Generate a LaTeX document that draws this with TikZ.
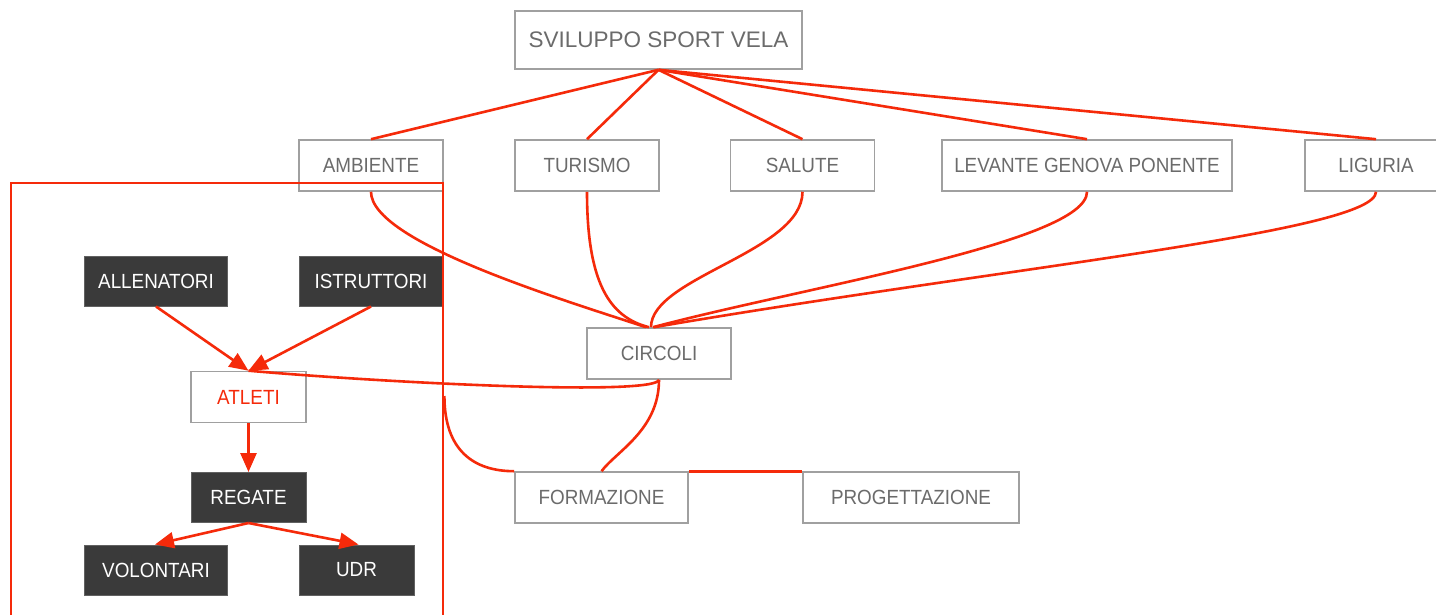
\documentclass[tikz,border=0pt]{standalone}
\usepackage{fontspec}
\setmainfont[FakeStretch=0.92]{Liberation Sans}
\newfontfamily\svfont{Liberation Sans}
\usetikzlibrary{arrows.meta}
\definecolor{rline}{HTML}{F52A0A}
\definecolor{gborder}{HTML}{A0A0A0}
\definecolor{gtext}{HTML}{6B6B6B}
\definecolor{dbox}{HTML}{3A3A3A}
\tikzset{
  lightbox/.style={draw=gborder, line width=1.6pt, fill=white, text=gtext, inner sep=0pt,
    minimum height=51pt, font=\fontsize{20.5}{22}\selectfont},
  darkbox/.style={draw=dbox!80!white, line width=1pt, fill=dbox, text=white, inner sep=0pt,
    minimum height=50pt, font=\fontsize{20.5}{22}\selectfont},
  link/.style={draw=rline, line width=2.6pt},
  arr/.style={link, -{Triangle[length=19pt,width=16pt]}},
  clusterbox/.style={draw=rline, line width=2.8pt, inner sep=0pt}
}
\begin{document}
\begin{tikzpicture}[x=1pt,y=-1pt]
\useasboundingbox (0,0) rectangle (1436,614);
\fill[white] (0,0) rectangle (1436,614);
% top level
\node[lightbox, minimum width=287pt, minimum height=58pt, font=\svfont\fontsize{22.5}{24}\selectfont] (sv) at (658.5,40) {SVILUPPO SPORT VELA};
\node[lightbox, minimum width=144pt] (amb) at (371,165.5) {AMBIENTE};
\node[lightbox, minimum width=144pt] (tur) at (587,165.5) {TURISMO};
\node[lightbox, minimum width=144pt] (sal) at (802.5,165.5) {SALUTE};
\node[lightbox, minimum width=290pt] (lev) at (1087,165.5) {LEVANTE GENOVA PONENTE};
\node[lightbox, minimum width=142pt] (lig) at (1376,165.5) {LIGURIA};
\node[lightbox, minimum width=144pt] (circ) at (659,353.5) {CIRCOLI};
\node[lightbox, minimum width=173pt] (form) at (601.5,497.5) {FORMAZIONE};
\node[lightbox, minimum width=216pt] (prog) at (911,497.5) {PROGETTAZIONE};
% cluster
\node[darkbox, minimum width=143pt] (all) at (156,281) {ALLENATORI};
\node[darkbox, minimum width=144pt] (ist) at (371,281) {ISTRUTTORI};
\node[lightbox, minimum width=115pt, text=rline] (atl) at (248.5,397) {ATLETI};
\node[darkbox, minimum width=115pt] (reg) at (248.5,497.5) {REGATE};
\node[darkbox, minimum width=143pt] (vol) at (156,570) {VOLONTARI};
\node[darkbox, minimum width=115pt] (udr) at (356.5,570) {UDR};
\node[clusterbox, minimum width=432pt, minimum height=442pt] (cl) at (227,404) {};
% straight links from top
\foreach \t in {amb,tur,sal,lev,lig}
  \draw[link] (sv.south) -- (\t.north);
% curves to CIRCOLI
\draw[link] (amb.south) .. controls +(0,50) and +(-85,-28) .. ([xshift=-13pt]circ.north);
\draw[link] (tur.south) .. controls +(0,90) and +(-40,-10) .. ([xshift=-10pt]circ.north);
\draw[link] (sal.south) .. controls +(0,60) and +(0,-50) .. ([xshift=-8pt]circ.north);
\draw[link] (lev.south) .. controls +(0,50) and +(150,-40) .. ([xshift=-6pt]circ.north);
\draw[link] (lig.south) .. controls +(0,40) and +(350,-60) .. ([xshift=-5pt]circ.north);
% CIRCOLI downwards
\draw[link] (circ.south) .. controls +(-4,16) and +(150,13) .. (atl.north);
\draw[link] (circ.south) .. controls +(0,50) and +(15,-20) .. (form.north);
\draw[link] ([yshift=8pt]cl.east) .. controls +(0,55) and +(-40,0) .. (form.north west);
\draw[link] (form.north east) -- (prog.north west);
% cluster arrows
\draw[arr] (all.south) -- (atl.north);
\draw[arr] (ist.south) -- (atl.north);
\draw[arr] (atl.south) -- (reg.north);
\draw[arr] (reg.south) -- ([xshift=-1pt]vol.north);
\draw[arr] (reg.south) -- ([xshift=2pt]udr.north);
\end{tikzpicture}
\end{document}
